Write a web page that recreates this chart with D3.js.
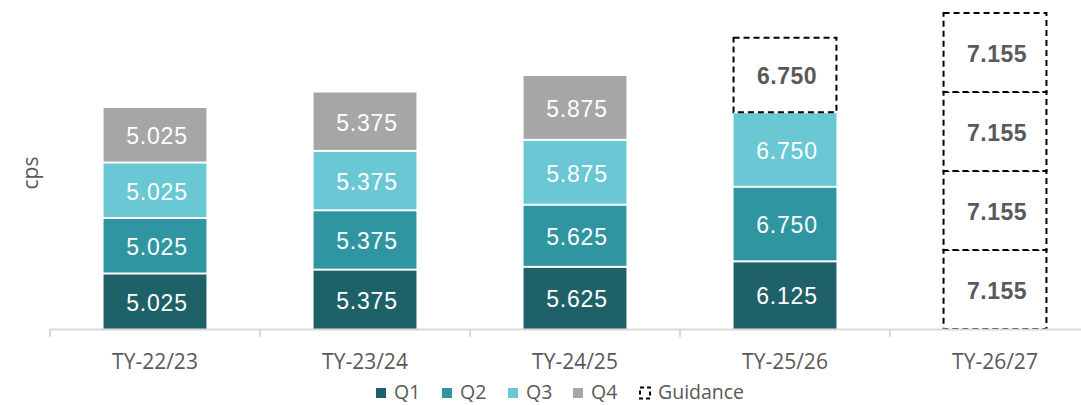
<!DOCTYPE html>
<html>
<head>
<meta charset="utf-8">
<script src="https://cdn.jsdelivr.net/npm/d3@7"></script>
<style>
  html, body { margin: 0; padding: 0; background: #ffffff; }
  svg { display: block; }
</style>
</head>
<body>
<svg id="chart" width="1081" height="405"></svg>
<script>
// ---- data ----
const categories = ["TY-22/23", "TY-23/24", "TY-24/25", "TY-25/26", "TY-26/27"];
const quarters = ["Q1", "Q2", "Q3", "Q4"];
// actual distributions (cps)
const q1 = [5.025, 5.375, 5.625, 6.125, null];
const q2 = [5.025, 5.375, 5.625, 6.750, null];
const q3 = [5.025, 5.375, 5.875, 6.750, null];
const q4 = [5.025, 5.375, 5.875, null, null];
// guidance (cps)
const gq1 = [null, null, null, null, 7.155];
const gq2 = [null, null, null, null, 7.155];
const gq3 = [null, null, null, null, 7.155];
const gq4 = [null, null, null, 6.750, 7.155];
const legendLabels = ["Q1", "Q2", "Q3", "Q4", "Guidance"];
const yAxisTitle = "cps";

// ---- styles ----
const colors = ["#1f6169", "#2f96a1", "#69c8d3", "#a6a6a6"];
const textGray = "#595959";

const svg = d3.select("#chart");
const baseY = 329;

const x = d3.scaleBand()
  .domain(categories)
  .range([50, 1100])
  .paddingInner(0.51)
  .paddingOuter(0.255);

const y = d3.scaleLinear().domain([0, 30]).range([baseY, -2.3]);

const actual = [q1, q2, q3, q4];
const guidance = [gq1, gq2, gq3, gq4];

// build stacked segments
const segments = [];
categories.forEach((c, i) => {
  let acc = 0;
  quarters.forEach((q, k) => {
    const a = actual[k][i];
    const g = guidance[k][i];
    const v = a != null ? a : g;
    if (v == null) return;
    segments.push({ cat: c, q: k, y0: acc, y1: acc + v, value: v, guide: a == null });
    acc += v;
  });
});

const gBars = svg.append("g");
const gap = 2;

// actual bars
gBars.selectAll("rect.actual")
  .data(segments.filter(d => !d.guide))
  .join("rect")
  .attr("class", "actual")
  .attr("x", d => x(d.cat))
  .attr("width", x.bandwidth())
  .attr("y", d => y(d.y1) + (d.y1 > 0 ? gap / 2 : 0))
  .attr("height", d => y(d.y0) - y(d.y1) - (d.y0 > 0 ? gap : gap / 2))
  .attr("fill", d => colors[d.q]);

// guidance boxes
gBars.selectAll("rect.guide")
  .data(segments.filter(d => d.guide))
  .join("rect")
  .attr("class", "guide")
  .attr("x", d => x(d.cat))
  .attr("width", x.bandwidth())
  .attr("y", d => y(d.y1))
  .attr("height", d => y(d.y0) - y(d.y1))
  .attr("fill", "#ffffff")
  .attr("stroke", "#000000")
  .attr("stroke-width", 2)
  .attr("stroke-dasharray", "6,4");

// labels
gBars.selectAll("text.val")
  .data(segments)
  .join("text")
  .attr("class", "val")
  .attr("x", d => x(d.cat) + x.bandwidth() / 2 + 2)
  .attr("y", d => (y(d.y0) + y(d.y1)) / 2 + 1)
  .attr("dy", "0.36em")
  .attr("text-anchor", "middle")
  .attr("font-family", "'Liberation Sans', Arial, sans-serif")
  .attr("font-size", 23)
  .attr("letter-spacing", d => d.guide ? "0.5px" : "0.8px")
  .attr("font-weight", d => d.guide ? "bold" : "normal")
  .attr("fill", d => d.guide ? textGray : "#ffffff")
  .text(d => d.value.toFixed(3));

// x axis
const gAxis = svg.append("g");
gAxis.append("line")
  .attr("x1", 50).attr("x2", 1081)
  .attr("y1", baseY + 0.5).attr("y2", baseY + 0.5)
  .attr("stroke", "#d9d9d9").attr("stroke-width", 2);

const off = (x.step() - x.bandwidth()) / 2;
gAxis.selectAll("line.tick")
  .data(categories)
  .join("line")
  .attr("class", "tick")
  .attr("x1", d => x(d) - off).attr("x2", d => x(d) - off)
  .attr("y1", baseY).attr("y2", baseY + 8)
  .attr("stroke", "#d9d9d9").attr("stroke-width", 2);

gAxis.selectAll("text.cat")
  .data(categories)
  .join("text")
  .attr("class", "cat")
  .attr("x", d => x(d) + x.bandwidth() / 2)
  .attr("y", 369)
  .attr("text-anchor", "middle")
  .attr("font-family", "'Open Sans', sans-serif")
  .attr("font-size", 21)
  .attr("fill", textGray)
  .text(d => d);

// y axis title
svg.append("text")
  .attr("transform", "translate(37.5,173) rotate(-90)")
  .attr("text-anchor", "middle")
  .attr("font-family", "'Open Sans', sans-serif")
  .attr("font-size", 21)
  .attr("fill", textGray)
  .text(yAxisTitle);

// legend
const legendX = [376, 442, 508, 573, 637];
const legBase = 399;
const gLeg = svg.append("g");
legendLabels.forEach((lab, i) => {
  const lx = legendX[i];
  if (i < 4) {
    gLeg.append("rect")
      .attr("x", lx).attr("y", legBase - 11).attr("width", 10).attr("height", 10)
      .attr("fill", colors[i]);
  } else {
    gLeg.append("rect")
      .attr("x", lx + 3).attr("y", legBase - 11.5).attr("width", 10).attr("height", 11)
      .attr("fill", "none")
      .attr("stroke", "#000").attr("stroke-width", 2)
      .attr("stroke-dasharray", "4,3");
  }
  gLeg.append("text")
    .attr("x", lx + (i < 4 ? 18 : 21))
    .attr("y", legBase)
    .attr("font-family", "'Open Sans', sans-serif")
    .attr("font-size", 19.5)
    .attr("fill", textGray)
    .text(lab);
});
</script>
</body>
</html>
